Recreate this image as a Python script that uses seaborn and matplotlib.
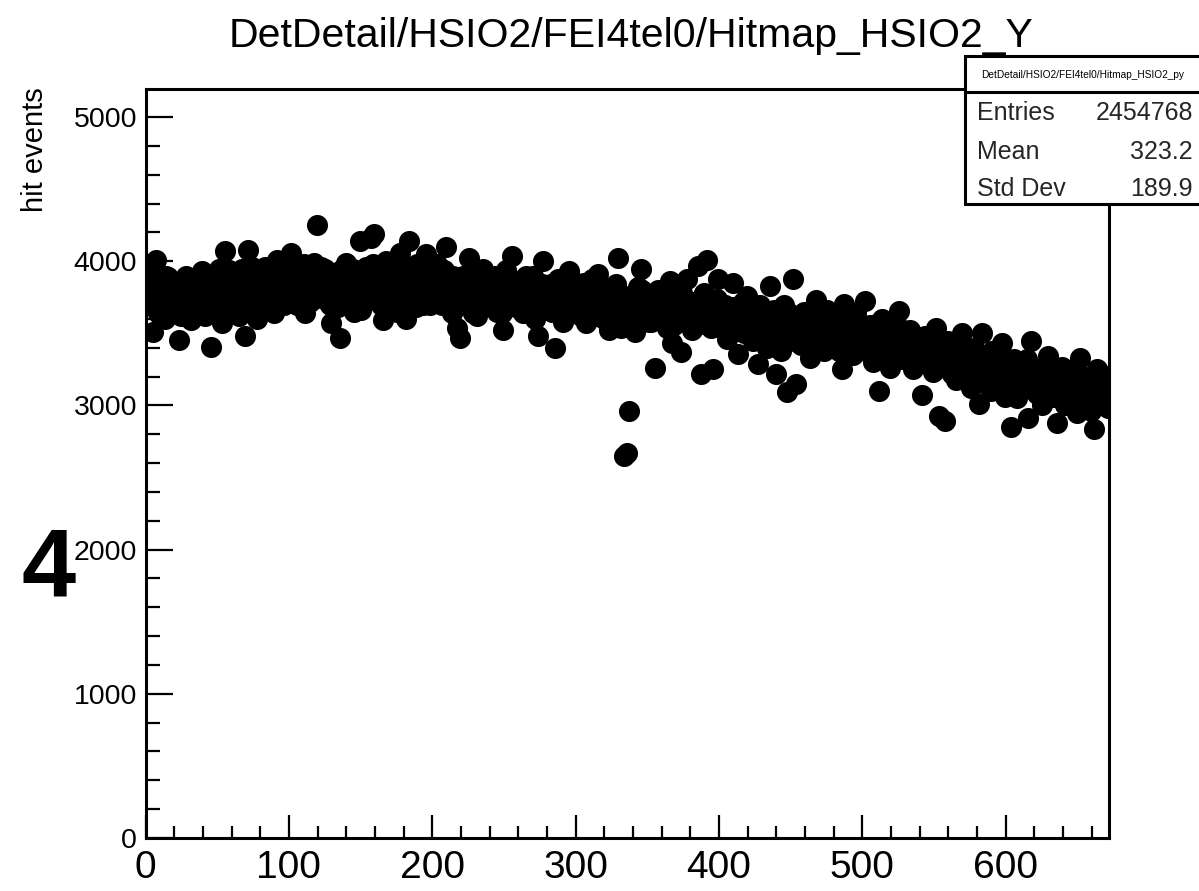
import numpy as np
import pandas as pd
import seaborn as sns
import matplotlib
matplotlib.use("Agg")
import matplotlib.pyplot as plt
from matplotlib.patches import Rectangle
from matplotlib.lines import Line2D
from matplotlib.ticker import MultipleLocator

# ---------------- data ----------------
title = "DetDetail/HSIO2/FEI4tel0/Hitmap_HSIO2_Y"
stats_title = "DetDetail/HSIO2/FEI4tel0/Hitmap_HSIO2_py"
stats_labels = ["Entries", "Mean", "Std Dev"]
stats_values = ["2454768", "323.2", "189.9"]
y_label = "hit events"
pad_label = "4"
x_ticks = [0, 100, 200, 300, 400, 500, 600]
y_ticks = [0, 1000, 2000, 3000, 4000, 5000]
n_rows = 672

# hits in odd rows (1, 3, 5, ... 671)
hits_odd = [
    3920, 3720, 3510, 4010, 3660, 3850, 3600, 3890, 3770, 3690,
    3740, 3455, 3660, 3880, 3720, 3590, 3830, 3690, 3770, 3935,
    3620, 3860, 3405, 3790, 3700, 3950, 3570, 4070, 3820, 3660,
    3750, 3880, 3620, 3950, 3485, 4080, 3700, 3830, 3600, 3920,
    3780, 3960, 3700, 3870, 3640, 4010, 3820, 3720, 3900, 3760,
    4060, 3850, 3700, 3950, 3780, 3640, 3900, 3820, 3990, 4250,
    3900, 3760, 3950, 3800, 3570, 3880, 3700, 3470, 3830, 3990,
    3760, 3900, 3650, 3840, 4140, 3720, 3960, 3800, 4165, 4190,
    3880, 3760, 3590, 4000, 3700, 3920, 3820, 3650, 4060, 3780,
    3600, 4140, 3900, 3750, 3980, 3860, 3700, 4050, 3820, 3940,
    3850, 3980, 3720, 3900, 4100, 3780, 3640, 3860, 3540, 3470,
    3900, 3760, 4020, 3700, 3850, 3620, 3800, 3950, 3720, 3880,
    3760, 3900, 3650, 3820, 3520, 3940, 3780, 4040, 3700, 3850,
    3780, 3640, 3900, 3740, 3860, 3600, 3485, 3820, 4000, 3700,
    3800, 3650, 3400, 3880, 3720, 3580, 3840, 3930, 3690, 3780,
    3760, 3620, 3850, 3570, 3700, 3880, 3660, 3910, 3740, 3600,
    3800, 3520, 3680, 3760, 4020, 3540, 2650, 2670, 2960, 3700,
    3510, 3820, 3950, 3650, 3760, 3580, 3700, 3260, 3800, 3620,
    3720, 3540, 3860, 3430, 3680, 3780, 3370, 3600, 3880, 3700,
    3520, 3640, 3970, 3220, 3780, 4010, 3600, 3255, 3700, 3880,
    3540, 3700, 3460, 3620, 3850, 3580, 3360, 3680, 3500, 3760,
    3600, 3450, 3700, 3290, 3560, 3650, 3400, 3830, 3520, 3220,
    3600, 3380, 3700, 3090, 3480, 3880, 3150, 3560, 3420, 3650,
    3500, 3330, 3620, 3730, 3450, 3580, 3380, 3660, 3520, 3440,
    3600, 3380, 3255, 3705, 3460, 3580, 3350, 3640, 3480, 3560,
    3725, 3420, 3560, 3300, 3480, 3100, 3600, 3380, 3520, 3260,
    3440, 3560, 3655, 3320, 3480, 3380, 3520, 3250, 3420, 3360,
    3070, 3480, 3300, 3420, 3230, 3540, 2930, 3360, 2895, 3450,
    3280, 3400, 3180, 3350, 3500, 3220, 3320, 3120, 3400, 3260,
    3010, 3500, 3200, 3320, 3100, 3380, 3180, 3250, 3430, 3060,
    3200, 2850, 3320, 3050, 3250, 3120, 3300, 2915, 3450, 3150,
    3080, 3250, 3000, 3180, 3345, 3060, 3220, 2880, 3120, 3270,
    3000, 3180, 3080, 3250, 2950, 3330, 3100, 3020, 3200, 2960,
    2840, 3255, 3050, 3150, 3205, 2985,
]

# hits in even rows (0, 2, 4, ... 670)
hits_even = [
    3800, 3700, 3880, 3760, 3640, 3820, 3720, 3900, 3680, 3790,
    3850, 3700, 3620, 3780, 3900, 3740, 3660, 3810, 3700, 3860,
    3760, 3680, 3900, 3820, 3640, 3760, 3880, 3720, 3800, 3940,
    3700, 3840, 3760, 3660, 3900, 3800, 3720, 3960, 3680, 3850,
    3900, 3740, 3820, 3680, 3960, 3780, 3860, 3940, 3700, 3880,
    3800, 3940, 3760, 3880, 3700, 3980, 3850, 3720, 3900, 3820,
    3880, 3960, 3740, 3860, 3700, 3920, 3800, 3680, 3940, 3760,
    3860, 3700, 3950, 3780, 3880, 3660, 3920, 3840, 3740, 3980,
    3820, 3940, 3700, 3860, 3980, 3760, 3900, 3680, 3840, 3960,
    3880, 3720, 3960, 3800, 3680, 3900, 3840, 3760, 3980, 3700,
    3920, 3780, 3860, 3700, 3940, 3820, 3760, 3900, 3680, 3820,
    3760, 3880, 3700, 3840, 3640, 3920, 3780, 3700, 3860, 3740,
    3820, 3700, 3880, 3760, 3640, 3840, 3900, 3720, 3800, 3680,
    3740, 3860, 3700, 3800, 3660, 3900, 3760, 3680, 3840, 3780,
    3720, 3840, 3660, 3780, 3860, 3700, 3620, 3800, 3740, 3860,
    3700, 3800, 3640, 3760, 3840, 3680, 3780, 3620, 3820, 3720,
    3660, 3780, 3600, 3720, 3840, 3680, 3620, 3760, 3700, 3640,
    3740, 3600, 3700, 3800, 3640, 3720, 3580, 3760, 3680, 3620,
    3700, 3600, 3760, 3660, 3560, 3720, 3640, 3780, 3600, 3680,
    3620, 3720, 3560, 3680, 3760, 3600, 3700, 3540, 3660, 3740,
    3640, 3540, 3700, 3600, 3500, 3680, 3580, 3620, 3720, 3560,
    3560, 3660, 3500, 3600, 3700, 3540, 3620, 3460, 3580, 3660,
    3520, 3600, 3460, 3560, 3640, 3500, 3580, 3440, 3620, 3540,
    3560, 3460, 3600, 3520, 3420, 3580, 3500, 3640, 3440, 3560,
    3440, 3540, 3380, 3500, 3600, 3420, 3520, 3460, 3380, 3560,
    3500, 3380, 3460, 3560, 3400, 3480, 3340, 3520, 3420, 3460,
    3400, 3500, 3340, 3440, 3520, 3360, 3460, 3300, 3480, 3400,
    3360, 3440, 3300, 3400, 3480, 3340, 3260, 3420, 3320, 3380,
    3320, 3220, 3380, 3280, 3420, 3300, 3200, 3360, 3260, 3340,
    3260, 3340, 3180, 3300, 3220, 3380, 3140, 3280, 3200, 3320,
    3220, 3140, 3280, 3180, 3100, 3260, 3160, 3320, 3120, 3240,
    3160, 3100, 3220, 3040, 3180, 3260, 3120, 3060, 3200, 3140,
    3120, 3200, 3040, 3160, 3100, 3220, 3060, 3140, 3000, 3180,
    3100, 3040, 3160, 3080, 3120, 3020,
]

# ---------------- style ----------------
sns.set_theme(style="white")
plt.rcParams["font.family"] = ["Liberation Sans", "DejaVu Sans"]

W, H = 1199, 891
fig = plt.figure(figsize=(W / 100, H / 100), dpi=100)
fig.patch.set_facecolor("white")

x0, x1 = 145.5, 1109
y0, y1 = 838, 89
ax = fig.add_axes([x0 / W, 1 - y0 / H, (x1 - x0) / W, (y0 - y1) / H])
ax.set_facecolor("white")

rows = np.arange(n_rows)
df = pd.DataFrame({
    "row": np.concatenate([rows[0::2], rows[1::2]]) + 0.5,
    "hits": hits_even + hits_odd,
})
sns.scatterplot(data=df, x="row", y="hits", ax=ax, s=230, color="black",
                linewidth=0, legend=False, zorder=3)

ax.set_xlim(0, n_rows)
ax.set_ylim(0, 5195)
ax.set_xlabel("")
ax.set_ylabel("")

for sp in ax.spines.values():
    sp.set_visible(True)
    sp.set_color("black")
    sp.set_linewidth(2.2)

ax.set_xticks(x_ticks)
ax.set_yticks(y_ticks)
ax.xaxis.set_minor_locator(MultipleLocator(20))
ax.yaxis.set_minor_locator(MultipleLocator(200))
ax.tick_params(axis="x", which="major", direction="in", length=16.5, width=1.6,
               colors="black", labelsize=28, pad=9, bottom=True, top=False)
ax.tick_params(axis="x", which="minor", direction="in", length=8.6, width=1.6,
               colors="black", bottom=True, top=False)
ax.tick_params(axis="y", which="major", direction="in", length=19.5, width=1.6,
               colors="black", labelsize=20.5, pad=6, left=True, right=False)
ax.tick_params(axis="y", which="minor", direction="in", length=10, width=1.6,
               colors="black", left=True, right=False)
ax.grid(False)

# titles and labels
fig.text(631 / W, 1 - 36 / H, title, ha="center", va="center", fontsize=29.5, color="black")
fig.text(35 / W, 1 - 87 / H, y_label, rotation=90, ha="center", va="top",
         fontsize=21, color="black")
fig.text(49 / W, 1 - 597 / H, pad_label, ha="center", va="baseline",
         fontsize=70, fontweight="bold", color="black")

# stats box
bx0, by0, by1 = 965, 56, 204
box = Rectangle((bx0 / W, 1 - by1 / H), (W + 20 - bx0) / W, (by1 - by0) / H,
                transform=fig.transFigure, facecolor="white", edgecolor="black",
                linewidth=2.2, zorder=10, clip_on=False)
fig.add_artist(box)
fig.add_artist(Line2D([bx0 / W, 1.02], [1 - 92 / H, 1 - 92 / H], transform=fig.transFigure,
                      color="black", linewidth=2.2, zorder=11))
fig.text(1083 / W, 1 - 75 / H, stats_title, ha="center", va="center", fontsize=7.3,
         color="black", zorder=12)
for lab, val, yy in zip(stats_labels, stats_values, [113, 152, 189]):
    fig.text(977 / W, 1 - yy / H, lab, ha="left", va="center", fontsize=18, zorder=12)
    fig.text(1193 / W, 1 - yy / H, val, ha="right", va="center", fontsize=18, zorder=12)

fig.savefig("out.png", dpi=100, facecolor="white")
